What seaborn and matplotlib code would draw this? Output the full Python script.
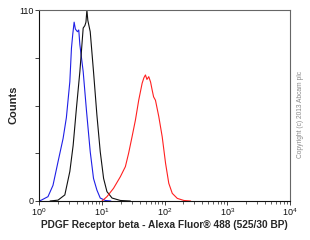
import numpy as np
import pandas as pd
import matplotlib
matplotlib.use("Agg")
import matplotlib.pyplot as plt
import seaborn as sns
from matplotlib.ticker import LogLocator, FixedLocator, NullFormatter, FixedFormatter

# ---- data ----
blue_x = [1.0, 1.09, 1.39, 1.67, 2.01, 2.42, 2.73, 3.10, 3.29, 3.45, 3.63, 3.80, 4.10, 4.30, 4.48, 5.06, 5.71, 6.55, 7.39, 8.37, 9.46, 11.4, 14.0]
blue_y = [0.0, 0.5, 2.5, 9.0, 22.6, 36.0, 48.0, 68.7, 88.0, 96.0, 103.0, 99.0, 97.5, 98.5, 90.0, 74.5, 52.0, 28.4, 13.0, 6.3, 1.7, 0.3, 0.0]

black_x = [1.5, 2.01, 2.58, 3.10, 3.50, 3.95, 4.48, 5.06, 5.38, 5.60, 5.80, 6.00, 6.55, 7.39, 8.37, 9.46, 10.7, 12.1, 14.6, 19.8, 28.6]
black_y = [0.0, 0.5, 3.5, 17.0, 32.0, 53.5, 74.5, 99.6, 101.0, 103.0, 110.0, 104.0, 97.5, 74.5, 49.5, 28.4, 13.0, 5.4, 1.7, 0.3, 0.0]

red_x = [10.1, 12.1, 15.4, 19.8, 23.8, 26.8, 30.4, 34.4, 38.8, 44.0, 47.0, 49.7, 52.5, 56.1, 60.0, 63.5, 67.0, 71.8, 81.1, 91.9, 104, 117, 133, 160, 204, 261]
red_y = [0.0, 2.5, 7.3, 14.0, 19.8, 27.5, 37.0, 46.6, 58.0, 67.8, 71.0, 72.6, 70.0, 71.6, 68.5, 64.0, 60.0, 58.0, 48.6, 37.0, 21.7, 10.2, 4.4, 1.5, 0.3, 0.0]

series_names = ["isotype", "unstained", "PDGFRB"]
series_colors = ["#1f1fe6", "#111111", "#ff2020"]

xtick_vals = [1, 10, 100, 1000, 10000]
ytick_vals = [0, 27.5, 55, 82.5, 110]
ytick_labels = ["0", "", "", "", "110"]

df = pd.concat([
    pd.DataFrame({"x": blue_x, "y": blue_y, "s": series_names[0]}),
    pd.DataFrame({"x": black_x, "y": black_y, "s": series_names[1]}),
    pd.DataFrame({"x": red_x, "y": red_y, "s": series_names[2]}),
], ignore_index=True)

sns.set_style("white")
plt.rcParams["font.family"] = ["Liberation Sans", "DejaVu Sans"]
plt.rcParams["mathtext.fontset"] = "custom"
plt.rcParams["mathtext.rm"] = "Liberation Sans"

fig = plt.figure(figsize=(3.1, 2.4), dpi=100)
ax = fig.add_axes([39 / 310, 39 / 240, 251 / 310, 191 / 240])

sns.lineplot(data=df, x="x", y="y", hue="s", palette=dict(zip(series_names, series_colors)),
             linewidth=0.8, legend=False, ax=ax, sort=False, estimator=None)

ax.set_xscale("log")
ax.set_xlim(1, 10000)
ax.set_ylim(0, 110)
ax.xaxis.set_major_locator(FixedLocator(xtick_vals))
ax.xaxis.set_minor_locator(LogLocator(base=10, subs=np.arange(2, 10)))
ax.xaxis.set_minor_formatter(NullFormatter())
ax.yaxis.set_major_locator(FixedLocator(ytick_vals))
ax.yaxis.set_major_formatter(FixedFormatter(ytick_labels))

ax.tick_params(axis="both", which="major", direction="out", length=3, width=0.6,
               labelsize=6.5, pad=1, colors="#222222", labelcolor="#111111", bottom=True, left=True)
ax.tick_params(axis="x", which="minor", direction="out", length=1.8, width=0.5, bottom=True, colors="#222222")

for side, sp in ax.spines.items():
    sp.set_visible(True)
    sp.set_linewidth(0.8)
    sp.set_color("#111111" if side in ("left", "bottom") else "#666666")

ax.set_xlabel("PDGF Receptor beta - Alexa Fluor® 488 (525/30 BP)", fontsize=7.3,
              fontweight="bold", labelpad=1)
ax.set_ylabel("Counts", fontsize=8, fontweight="bold")
ax.yaxis.set_label_coords((19 - 39) / 251, 0.503)

fig.text(300 / 310, 1 - 114 / 240, "Copyright (c) 2013 Abcam plc", rotation=90,
         fontsize=4.8, color="#888888", ha="center", va="center")

fig.savefig("out.png", dpi=100)
